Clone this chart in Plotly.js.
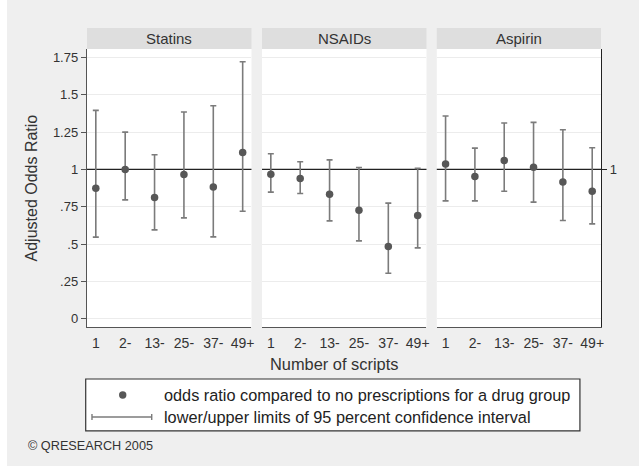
<!DOCTYPE html>
<html>
<head>
<meta charset="utf-8">
<script src="https://cdn.plot.ly/plotly-3.0.1.min.js"></script>
<style>
  html, body { margin: 0; padding: 0; background: #ffffff; }
  #chart { position: absolute; left: 7px; top: 0px; width: 632px; height: 466px; }
</style>
</head>
<body>
<div id="chart"></div>
<script>
// ---- data ----
const categories = ['1', '2-', '13-', '25-', '37-', '49+'];
const panelNames = ['Statins', 'NSAIDs', 'Aspirin'];

const statinsOR = [0.874, 1.000, 0.812, 0.966, 0.883, 1.114];
const statinsLo = [0.546, 0.796, 0.595, 0.675, 0.548, 0.720];
const statinsHi = [1.396, 1.250, 1.098, 1.385, 1.427, 1.722];

const nsaidsOR = [0.968, 0.940, 0.834, 0.727, 0.483, 0.691];
const nsaidsLo = [0.848, 0.839, 0.655, 0.521, 0.304, 0.474];
const nsaidsHi = [1.105, 1.051, 1.064, 1.013, 0.774, 1.007];

const aspirinOR = [1.036, 0.953, 1.060, 1.015, 0.915, 0.854];
const aspirinLo = [0.789, 0.789, 0.854, 0.781, 0.658, 0.635];
const aspirinHi = [1.358, 1.143, 1.311, 1.315, 1.266, 1.145];

const yTickVals = [0, 0.25, 0.5, 0.75, 1, 1.25, 1.5, 1.75];
const yTickText = ['0', '.25', '.5', '.75', '1', '1.25', '1.5', '1.75'];
const refValue = 1;

const legendLabels = ['odds ratio compared to no prescriptions for a drug group',
                      'lower/upper limits of 95 percent confidence interval'];
const xTitle = 'Number of scripts';
const yTitle = 'Adjusted Odds Ratio';
const credit = '\u00A9 QRESEARCH 2005';

// ---- style ----
const FONT = '"Liberation Sans", Arial, sans-serif';
const pointColor = '#575757';
const barColor = '#7b7b7b';
const yRange = [-0.056, 1.807];
const xRange = [-0.3, 5.3];
const gridVals = yTickVals.filter(v => v !== refValue);

const series = [
  [statinsOR, statinsLo, statinsHi],
  [nsaidsOR, nsaidsLo, nsaidsHi],
  [aspirinOR, aspirinLo, aspirinHi]
];

const traces = series.map((s, i) => {
  const [or, lo, hi] = s;
  return {
    type: 'scatter', mode: 'markers',
    x: categories, y: or,
    xaxis: i === 0 ? 'x' : 'x' + (i + 1),
    yaxis: i === 0 ? 'y' : 'y' + (i + 1),
    marker: { color: pointColor, size: 7.5 },
    error_y: {
      type: 'data', symmetric: false,
      array: hi.map((h, k) => h - or[k]),
      arrayminus: lo.map((l, k) => or[k] - l),
      color: barColor, thickness: 1.6, width: 3
    },
    showlegend: false, hoverinfo: 'skip'
  };
});
// empty helper trace so the right-hand axis of the last panel is built
traces.push({ type: 'scatter', mode: 'markers', x: [], y: [], xaxis: 'x3', yaxis: 'y4',
  showlegend: false, hoverinfo: 'skip' });

const domains = [[0, 0.32], [0.3405, 0.6605], [0.6805, 1]];

function xAxis(i) {
  return {
    domain: domains[i], anchor: i === 0 ? 'y' : 'y' + (i + 1),
    type: 'category', range: xRange, fixedrange: true,
    showgrid: false, zeroline: false,
    showline: true, linecolor: '#555555', linewidth: 1.2,
    ticks: 'outside', ticklen: 3, tickcolor: 'rgba(0,0,0,0)',
    tickfont: { family: FONT, size: 14, color: '#333333' }
  };
}
function yAxis(i) {
  const base = {
    anchor: i === 0 ? 'x' : 'x' + (i + 1),
    range: yRange, fixedrange: true,
    tickmode: 'array', tickvals: yTickVals, ticktext: yTickText,
    showgrid: false,
    minor: { tickmode: 'array', tickvals: gridVals, showgrid: true,
             gridcolor: '#ececec', gridwidth: 1, ticks: '' },
    zeroline: false
  };
  if (i === 0) {
    Object.assign(base, {
      showline: true, linecolor: '#555555', linewidth: 1.2,
      ticks: 'outside', ticklen: 5, tickcolor: '#555555',
      tickfont: { family: FONT, size: 13, color: '#333333' }
    });
  } else {
    Object.assign(base, { showline: false, ticks: '', showticklabels: false });
  }
  return base;
}

const layout = {
  width: 632, height: 466,
  margin: { l: 80, r: 38, t: 49, b: 139 },
  paper_bgcolor: '#efefef', plot_bgcolor: '#ffffff',
  font: { family: FONT, color: '#333333' },
  showlegend: false,
  xaxis: xAxis(0), xaxis2: xAxis(1), xaxis3: xAxis(2),
  yaxis: yAxis(0), yaxis2: yAxis(1), yaxis3: yAxis(2),
  yaxis4: {
    overlaying: 'y3', anchor: 'x3', side: 'right',
    range: yRange, fixedrange: true,
    tickmode: 'array', tickvals: [refValue], ticktext: ['1'], showticklabels: true,
    showgrid: false, zeroline: false,
    showline: true, linecolor: '#222222', linewidth: 1.2,
    ticks: 'outside', ticklen: 5, tickcolor: '#222222',
    tickfont: { family: FONT, size: 13, color: '#333333' }
  },
  shapes: [],
  annotations: []
};

// reference line at 1 and strip headers
['x', 'x2', 'x3'].forEach((xr, i) => {
  const yr = i === 0 ? 'y' : 'y' + (i + 1);
  layout.shapes.push({
    type: 'line', xref: xr + ' domain', yref: yr,
    x0: 0, x1: 1, y0: refValue, y1: refValue,
    line: { color: '#222222', width: 1.2 }, layer: 'below'
  });
  layout.shapes.push({
    type: 'rect', xref: xr + ' domain', yref: 'paper',
    x0: 0, x1: 1, y0: 1, y1: 1.0756,
    fillcolor: '#dedede', line: { width: 0 }
  });
  layout.annotations.push({
    xref: xr + ' domain', yref: 'paper', x: 0.5, y: 1.0378,
    xanchor: 'center', yanchor: 'middle', showarrow: false,
    text: panelNames[i], font: { family: FONT, size: 15, color: '#333333' }
  });
});

// axis titles
layout.annotations.push({
  xref: 'paper', yref: 'paper', x: -0.108, y: 0.5, textangle: -90,
  xanchor: 'center', yanchor: 'middle', showarrow: false,
  text: yTitle, font: { family: FONT, size: 16, color: '#333333' }
});
layout.annotations.push({
  xref: 'paper', yref: 'paper', x: 0.4805, y: -0.133,
  xanchor: 'center', yanchor: 'middle', showarrow: false,
  text: xTitle, font: { family: FONT, size: 16.4, color: '#333333' }
});

// legend box
layout.shapes.push({
  type: 'rect', xref: 'paper', yref: 'paper',
  x0: -0.0025, x1: 0.959, y0: -0.374, y1: -0.187,
  fillcolor: '#ffffff', line: { color: '#333333', width: 1.2 }
});
const rx = 3.7 / 514, ry = 3.7 / 278;
layout.shapes.push({
  type: 'circle', xref: 'paper', yref: 'paper',
  x0: 0.0695 - rx, x1: 0.0695 + rx, y0: -0.2446 - ry, y1: -0.2446 + ry,
  fillcolor: pointColor, line: { width: 0 }
});
const ly = -0.3237, capH = 3 / 278;
layout.shapes.push({ type: 'line', xref: 'paper', yref: 'paper',
  x0: 0.0097, x1: 0.1259, y0: ly, y1: ly, line: { color: barColor, width: 1.4 } });
layout.shapes.push({ type: 'line', xref: 'paper', yref: 'paper',
  x0: 0.0097, x1: 0.0097, y0: ly - capH, y1: ly + capH, line: { color: barColor, width: 1.4 } });
layout.shapes.push({ type: 'line', xref: 'paper', yref: 'paper',
  x0: 0.1259, x1: 0.1259, y0: ly - capH, y1: ly + capH, line: { color: barColor, width: 1.4 } });
legendLabels.forEach((t, k) => {
  layout.annotations.push({
    xref: 'paper', yref: 'paper', x: 0.1465, y: k === 0 ? -0.2446 : -0.3237,
    xanchor: 'left', yanchor: 'middle', showarrow: false,
    text: t, font: { family: FONT, size: 16.3, color: '#222222' }
  });
});

// credit
layout.annotations.push({
  xref: 'paper', yref: 'paper', x: -0.1187, y: -0.427,
  xanchor: 'left', yanchor: 'middle', showarrow: false,
  text: credit, font: { family: FONT, size: 12.7, color: '#333333' }
});

Plotly.newPlot('chart', traces, layout, { displayModeBar: false, staticPlot: true });
</script>
</body>
</html>
